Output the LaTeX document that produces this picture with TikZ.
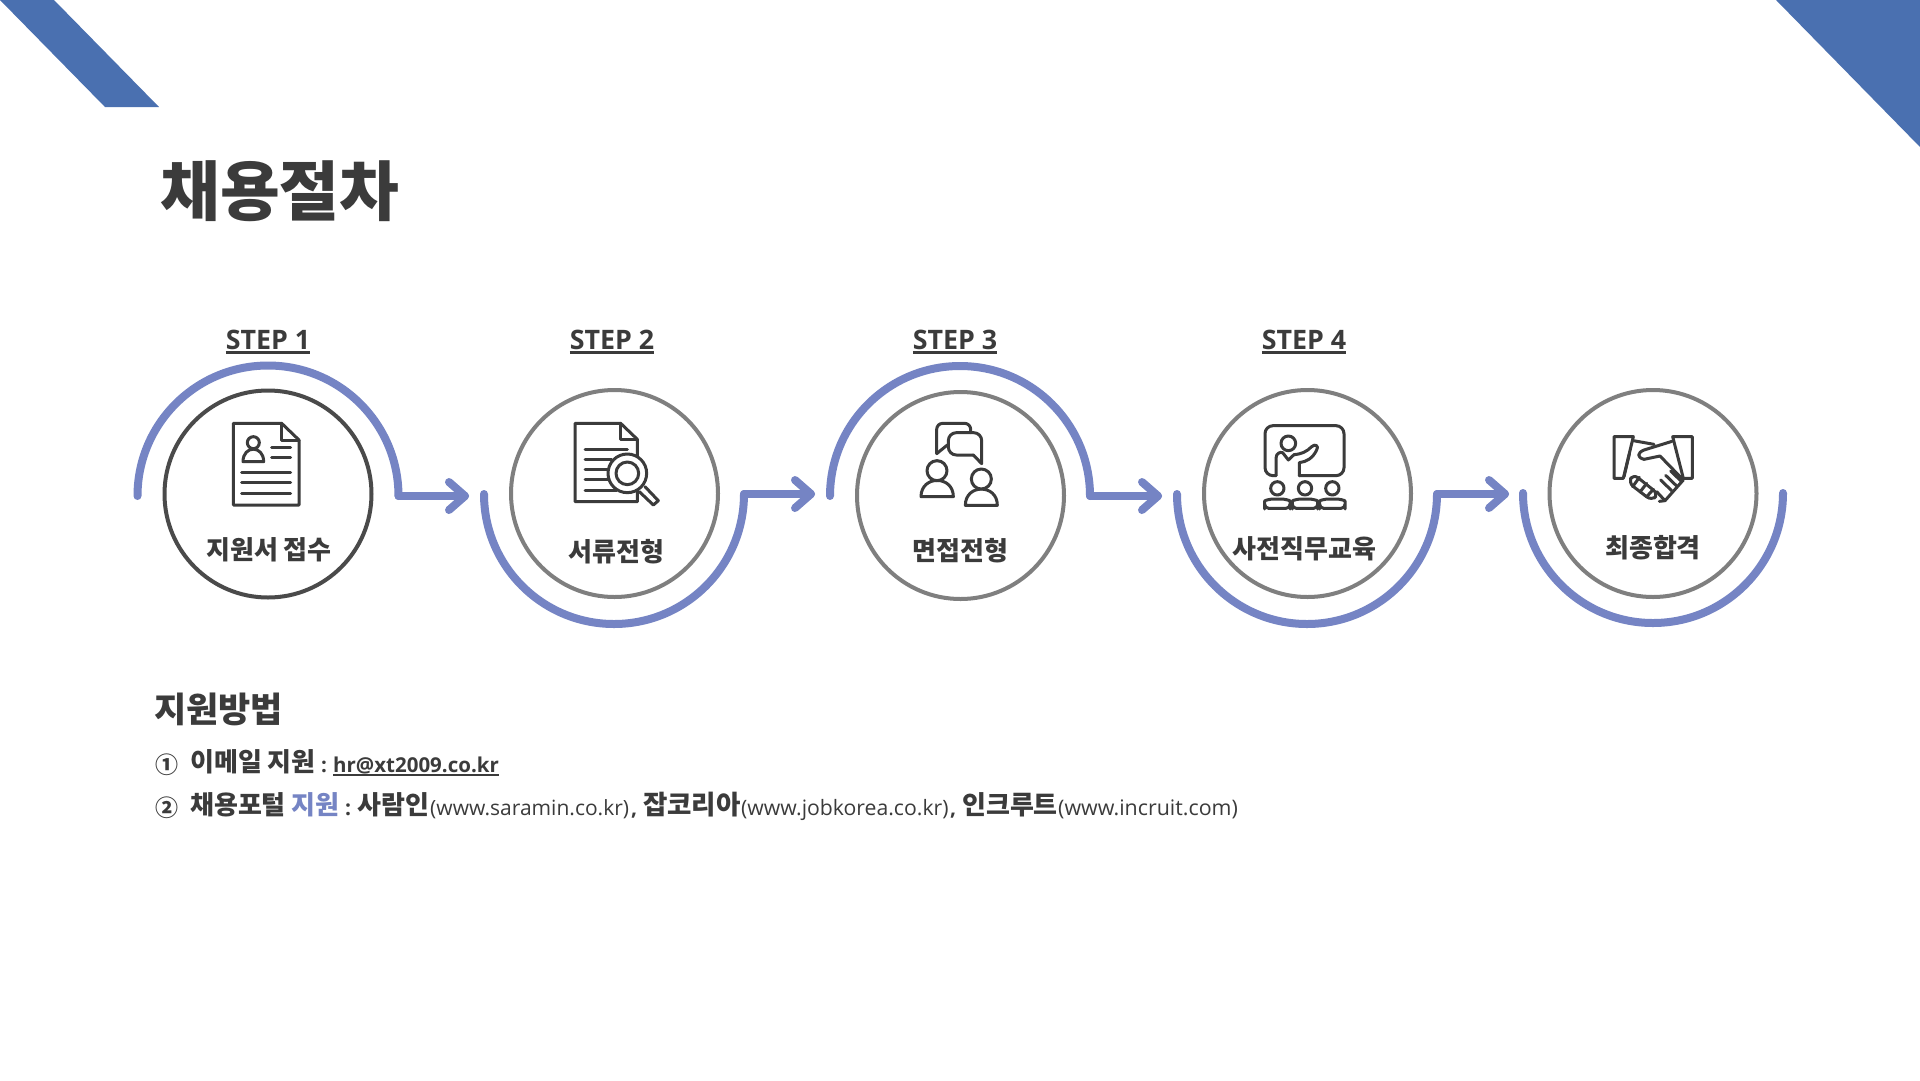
\documentclass[tikz,border=0pt]{standalone}
\usepackage{fontspec}
\setmainfont{Noto Sans CJK KR}
\newfontfamily\lat{Open Sans}
\usetikzlibrary{calc}
\definecolor{ink}{HTML}{3B3B3B}
\definecolor{flow}{HTML}{7584C4}
\definecolor{corner}{HTML}{4A70B0}
\definecolor{ringgray}{HTML}{7F7F7F}
\definecolor{ringdark}{HTML}{4A4A4A}
\newcommand{\ulin}[3]{\setbox0\hbox{#3}\rlap{\raisebox{-#1pt}{\rule{\wd0}{#2pt}}}\box0}
\tikzset{
  ring/.style={circle,draw=ringgray,line width=4pt,minimum size=207pt,inner sep=0pt},
  arcline/.style={draw=flow,line width=8pt,line cap=round},
  flowline/.style={draw=flow,line width=8pt,line cap=round,line join=round},
  icon/.style={draw=ink,line width=3pt,line cap=round,line join=round},
  circlabel/.style={anchor=base,font=\bfseries\fontsize{26}{26}\selectfont,text=ink,inner sep=0pt},
  steplabel/.style={anchor=base,font=\lat\bfseries\fontsize{26.8}{27}\selectfont,text=ink,inner sep=0pt},
  seg/.style={anchor=base west,inner sep=0pt,text=ink}
}
\begin{document}
\begin{tikzpicture}[x=1pt,y=-1pt]
\useasboundingbox (0,0) rectangle (1920,1080);
\fill[white] (0,0) rectangle (1920,1080);
% corners
\fill[corner] (0,0) -- (54,0) -- (159,107) -- (105,107) -- cycle;
\fill[corner] (1776,0) -- (1920,0) -- (1920,147) -- cycle;
% title
\node[seg,font=\bfseries\fontsize{65}{65}\selectfont] (title) at (160,215) {채용절차};
% step labels
\node[steplabel] (s1) at (268,349) {\ulin{4.5}{2.4}{STEP 1}};
\node[steplabel] (s2) at (612,349) {\ulin{4.5}{2.4}{STEP 2}};
\node[steplabel] (s3) at (955,349) {\ulin{4.5}{2.4}{STEP 3}};
\node[steplabel] (s4) at (1304,349) {\ulin{4.5}{2.4}{STEP 4}};
% rings
\node[ring,draw=ringdark] (c1) at (268,494) {};
\node[ring] (c2) at (614.5,493.5) {};
\node[ring] (c3) at (960.5,495.5) {};
\node[ring] (c4) at (1307.5,493.5) {};
\node[ring] (c5) at (1653,493.5) {};
% arc anchors
\coordinate (a1s) at (137.5,496); \coordinate (a1e) at (398.5,496);
\coordinate (a2s) at (484,494);   \coordinate (a2e) at (744,494);
\coordinate (a3s) at (830,496);   \coordinate (a3e) at (1090,496);
\coordinate (a4s) at (1177,494);  \coordinate (a4e) at (1437,494);
\coordinate (a5s) at (1523,493);  \coordinate (a5e) at (1783,493);
\coordinate (t1) at (465,496); \coordinate (t2) at (811,494);
\coordinate (t3) at (1158,496); \coordinate (t4) at (1505,494);
% arcs
\draw[arcline] (a1s) arc[start angle=180,end angle=0,radius=130.5pt];
\draw[arcline] (a2s) arc[start angle=180,end angle=360,radius=130pt];
\draw[arcline] (a3s) arc[start angle=180,end angle=0,radius=130pt];
\draw[arcline] (a4s) arc[start angle=180,end angle=360,radius=130pt];
\draw[arcline] (a5s) arc[start angle=180,end angle=360,radius=130pt];
% arrows
\foreach \a/\t in {a1e/t1,a2e/t2,a3e/t3,a4e/t4}{
  \draw[flowline] (\a) -- (\t);
  \draw[flowline] ($(\t)+(-16,-14)$) -- (\t) -- ($(\t)+(-16,14)$);
}
% circle labels
\node[circlabel] (l1) at (269,559) {지원서 접수};
\node[circlabel] (l2) at (616.5,561) {서류전형};
\node[circlabel] (l3) at (960.5,560) {면접전형};
\node[circlabel] (l4) at (1304.5,558) {사전직무교육};
\node[circlabel] (l5) at (1653,557) {최종합격};
% icon 1 document
\begin{scope}[shift={(120,310)},scale=1/3]
\draw[icon] (340,340) -- (485,340) -- (537,390) -- (537,585) -- (340,585) -- cycle;
\draw[icon] (485,340) -- (485,390) -- (537,390);
\draw[icon] (400,398) circle[radius=18pt];
\draw[icon] (369,455) .. controls (369,405) and (431,405) .. (431,455) -- cycle;
\draw[icon] (455,412) -- (512,412) (455,443) -- (512,443) (365,487) -- (512,487) (365,518) -- (512,518) (365,551) -- (512,551);
\end{scope}
% icon 2 review
\begin{scope}[shift={(470,310)},scale=1/3]
\draw[icon] (502,440) -- (502,388) -- (452,340) -- (315,340) -- (315,575) -- (502,575) -- (502,540);
\draw[icon] (452,340) -- (452,388) -- (502,388);
\draw[icon] (345,417) -- (472,417) (345,447) -- (425,447) (345,478) -- (415,478) (345,508) -- (415,508) (345,540) -- (440,540);
\draw[icon] (525,530) -- (565,572) -- (550,585) -- (508,545);
\draw[icon,fill=white] (472,490) circle[radius=58pt];
\draw[icon] (472,490) circle[radius=34pt];
\end{scope}
% icon 3 talk
\begin{scope}[shift={(810,310)},scale=1/3]
\draw[icon,rounded corners=6pt] (482,368) -- (482,340) -- (380,340) -- (380,431);
\draw[icon] (380,431) -- (412,405);
\draw[icon,rounded corners=8pt] (515,461) -- (515,368) -- (415,368) -- (415,435) -- (490,435);
\draw[icon] (490,435) -- (515,461);
\draw[icon,fill=white] (333,560) .. controls (333,495) and (430,495) .. (430,560) -- cycle;
\draw[icon,fill=white] (381,482) circle[radius=30pt];
\draw[icon,fill=white] (466,586) .. controls (466,521) and (562,521) .. (562,586) -- cycle;
\draw[icon,fill=white] (514,507) circle[radius=30pt];
\end{scope}
% icon 4 teaching
\begin{scope}[shift={(1170,310)},scale=1/3]
\draw[icon,rounded corners=8pt] (318,497) -- (285,497) -- (285,347) -- (522,347) -- (522,497) -- (388,497);
\draw[icon] (355,400) circle[radius=22pt];
\draw[icon] (318,497) -- (318,445) .. controls (318,430) and (330,425) .. (338,428) -- (355,450) -- (372,434) .. controls (395,432) and (410,425) .. (425,410) .. controls (435,400) and (448,408) .. (440,420) .. controls (428,445) and (410,455) .. (388,458) -- (388,497);
\foreach \c in {322,405,487}{
  \draw[icon,rounded corners=4pt] ($(\c,595)+(-38,0)$) -- ($(\c,595)+(38,0)$) -- ($(\c,595)+(38,-10)$) .. controls ($(\c,595)+(38,-24)$) and ($(\c,595)+(20,-28)$) .. ($(\c,595)+(0,-28)$) .. controls ($(\c,595)+(-20,-28)$) and ($(\c,595)+(-38,-24)$) .. ($(\c,595)+(-38,-10)$) -- cycle;
  \draw[icon,fill=white] (\c,535) circle[radius=20pt];
}
\end{scope}
% icon 5 handshake
\begin{scope}[shift={(1500,370)},scale=1/3]
\draw[icon] (342,200) -- (400,200) -- (370,325) -- (342,325) -- cycle;
\draw[icon] (518,200) -- (577,200) -- (577,325) -- (550,325) -- cycle;
\draw[icon] (400,212) -- (462,223);
\draw[icon] (516,214) -- (432,240) .. controls (412,248) and (410,262) .. (432,268) -- (480,258) -- (550,330) -- (495,392) -- (478,394);
\draw[icon] (388,252) -- (372,320);
\draw[icon,rounded corners=6pt] (400,312) -- (385,338) -- (455,392) -- (475,372) -- cycle;
\draw[icon] (418,322) -- (398,350) (440,340) -- (420,366) (460,358) -- (440,380);
\draw[icon] (482,330) -- (515,362) (497,316) -- (530,348) (512,303) -- (545,335) (470,365) -- (495,392);
\end{scope}
% method
\node[seg,font=\bfseries\fontsize{35}{35}\selectfont] (m0) at (154,722) {지원방법};
\node[seg,font=\bfseries\fontsize{23}{23}\selectfont] (n1) at (155,773) {①};
\node[seg,font=\bfseries\fontsize{26}{26}\selectfont] (m1) at (190,771) {이메일 지원};
\node[seg,font=\lat\bfseries\fontsize{20.5}{21}\selectfont] (m1b) at (321,772) {:};
\node[seg,font=\lat\bfseries\fontsize{20.5}{21}\selectfont] (m1c) at (333,772) {\ulin{3.5}{1.6}{hr@xt2009.co.kr}};
\node[seg,font=\bfseries\fontsize{23}{23}\selectfont] (n2) at (155,816) {②};
\node[seg,font=\bfseries\fontsize{26}{26}\selectfont] (p1) at (190,814) {채용포털};
\node[seg,font=\bfseries\fontsize{26}{26}\selectfont,text=flow] (p2) at (291,814) {지원};
\node[seg,font=\lat\bfseries\fontsize{21}{21}\selectfont] (p3) at (345,815) {:};
\node[seg,font=\bfseries\fontsize{26}{26}\selectfont] (p4) at (357,814) {사람인};
\node[seg,font=\lat\fontsize{21}{21}\selectfont] (p5) at (430,815) {(www.saramin.co.kr)};
\node[seg,font=\lat\bfseries\fontsize{21}{21}\selectfont] (p6) at (631,815) {,};
\node[seg,font=\bfseries\fontsize{26.5}{26}\selectfont] (p7) at (643,814) {잡코리아};
\node[seg,font=\lat\fontsize{21.2}{21}\selectfont] (p8) at (741,815) {(www.jobkorea.co.kr)};
\node[seg,font=\lat\bfseries\fontsize{21}{21}\selectfont] (p9) at (950,815) {,};
\node[seg,font=\bfseries\fontsize{26}{26}\selectfont] (p10) at (962,814) {인크루트};
\node[seg,font=\lat\fontsize{21.4}{21}\selectfont] (p11) at (1058,815) {(www.incruit.com)};
\end{tikzpicture}
\end{document}
